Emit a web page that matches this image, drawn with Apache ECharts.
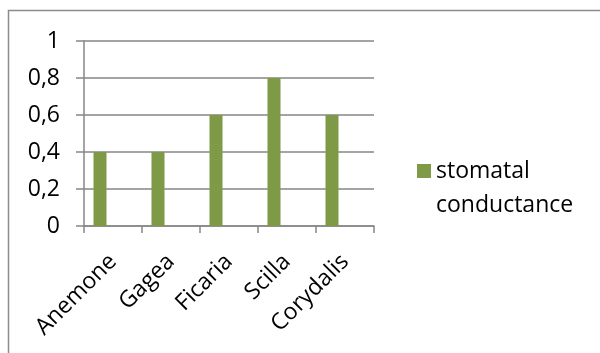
<!DOCTYPE html>
<html>
<head>
<meta charset="utf-8">
<script src="https://cdn.jsdelivr.net/npm/echarts@6/dist/echarts.min.js"></script>
<style>
  html, body { margin: 0; padding: 0; background: #ffffff; }
  #chart { width: 600px; height: 353px; }
</style>
</head>
<body>
<div id="chart"></div>
<script>
// Species along the x axis
const categories = ['Anemone', 'Gagea', 'Ficaria', 'Scilla', 'Corydalis'];
// Measured stomatal conductance per species
const conductance = [0.4, 0.4, 0.6, 0.8, 0.6];
// Two empty series slots that share each category with the main one
const emptySlotA = [null, null, null, null, null];
const emptySlotB = [null, null, null, null, null];
// Value axis range
const yMin = 0;
const yMax = 1;
const yStep = 0.2;

const seriesName = 'stomatal conductance';
const axisGray = '#868686';
const barGreen = '#7e9a47';
const font = '"Open Sans", "Noto Sans", sans-serif';

const chart = echarts.init(document.getElementById('chart'), null, { renderer: 'canvas' });

chart.setOption({
  animation: false,
  backgroundColor: '#ffffff',
  graphic: [{
    type: 'rect',
    silent: true,
    shape: { x: 8.5, y: 10.5, width: 640, height: 420 },
    style: { fill: 'none', stroke: '#8c8c8c', lineWidth: 1.5 }
  }],
  grid: { left: 84, right: 226, top: 41, bottom: 127, containLabel: false },
  legend: {
    data: [seriesName],
    orient: 'vertical',
    left: 417,
    top: 120,
    padding: 0,
    itemWidth: 14,
    itemHeight: 14,
    itemGap: 0,
    icon: 'rect',
    // leading blank line keeps the marker level with the first word
    formatter: (name) => '\n' + name.replace(' ', '\n'),
    textStyle: {
      fontFamily: font,
      fontSize: 23,
      color: '#000000',
      lineHeight: 34
    }
  },
  xAxis: {
    type: 'category',
    data: categories,
    boundaryGap: true,
    axisLine: { show: true, lineStyle: { color: axisGray, width: 1.5 } },
    axisTick: { show: true, length: 7, alignWithLabel: false, lineStyle: { color: axisGray, width: 1.5 } },
    axisLabel: {
      rotate: 45,
      margin: 32,
      interval: 0,
      fontFamily: font,
      fontSize: 23,
      color: '#000000'
    }
  },
  yAxis: {
    type: 'value',
    min: yMin,
    max: yMax,
    interval: yStep,
    axisLine: { show: true, lineStyle: { color: axisGray, width: 1.5 } },
    axisTick: { show: true, length: 8, lineStyle: { color: axisGray, width: 1.5 } },
    splitLine: { show: true, lineStyle: { color: axisGray, width: 1.5 } },
    axisLabel: {
      margin: 24,
      fontFamily: font,
      fontSize: 23,
      color: '#000000',
      formatter: (v) => String(+v.toFixed(1)).replace('.', ',')
    }
  },
  series: [
    {
      name: seriesName,
      type: 'bar',
      data: conductance,
      barWidth: 13,
      barGap: '0%',
      itemStyle: { color: barGreen }
    },
    {
      name: 'slot2',
      type: 'bar',
      data: emptySlotA,
      barWidth: 13,
      barGap: '0%'
    },
    {
      name: 'slot3',
      type: 'bar',
      data: emptySlotB,
      barWidth: 13,
      barGap: '0%'
    }
  ]
});
</script>
</body>
</html>
